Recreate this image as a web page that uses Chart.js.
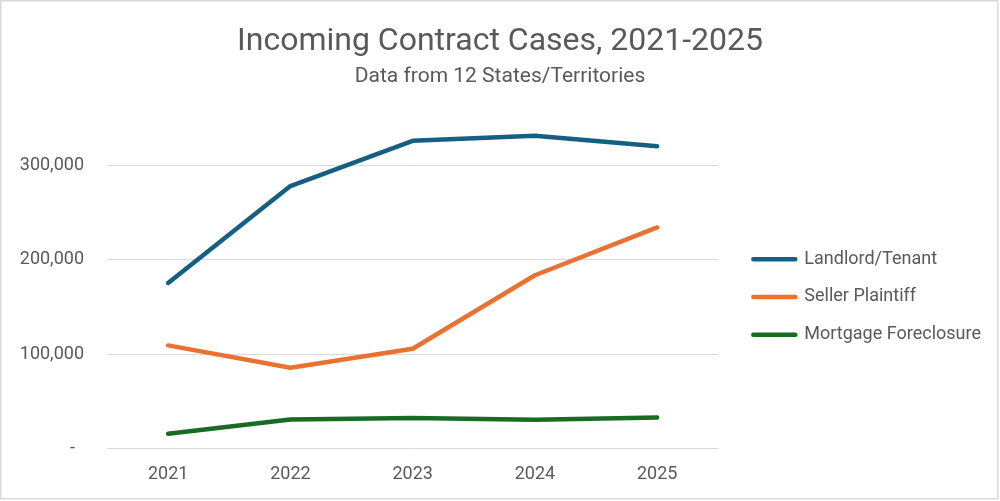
<!DOCTYPE html>
<html>
<head>
<meta charset="utf-8">
<title>Incoming Contract Cases, 2021-2025</title>
<script src="https://cdn.jsdelivr.net/npm/chart.js@4.4.1/dist/chart.umd.min.js"></script>
<style>
  html, body { margin: 0; padding: 0; background: #ffffff; }
  #wrap { width: 1000px; height: 501px; }
</style>
</head>
<body>
<div id="wrap"><canvas id="casesChart"></canvas></div>
<script>
const chartTitle = 'Incoming Contract Cases, 2021-2025';
const chartSubtitle = 'Data from 12 States/Territories';

const years = ['2021', '2022', '2023', '2024', '2025'];
const landlordTenant = [175600, 278200, 326200, 331500, 320300];
const sellerPlaintiff = [109500, 85900, 106000, 183800, 234400];
const mortgageForeclosure = [15900, 31100, 32500, 30800, 33200];
const yTicks = [0, 100000, 200000, 300000];
const yMax = 350000;

const textColor = '#595959';
const gridColor = '#d9d9d9';
const fontFamily = 'Roboto, "Open Sans", sans-serif';

// titles and the thin outer frame, drawn like the Excel chart box
const frameAndTitles = {
  id: 'frameAndTitles',
  afterDraw(chart) {
    const ctx = chart.ctx;
    const mid = chart.width / 2;
    ctx.save();
    ctx.fillStyle = textColor;
    ctx.textAlign = 'center';
    ctx.textBaseline = 'alphabetic';
    ctx.font = '32px ' + fontFamily;
    ctx.fillText(chartTitle, mid, 49.5);
    ctx.font = '21px ' + fontFamily;
    ctx.fillText(chartSubtitle, mid, 82);
    ctx.strokeStyle = gridColor;
    ctx.lineWidth = 1.5;
    ctx.strokeRect(0.75, 0.75, chart.width - 3, chart.height - 3);
    ctx.restore();
  }
};

function makeLine(label, values, color) {
  return {
    label: label,
    data: values,
    borderColor: color,
    backgroundColor: color,
    borderWidth: 4.5,
    borderCapStyle: 'round',
    borderJoinStyle: 'round',
    pointRadius: 0,
    pointHoverRadius: 0,
    tension: 0,
    fill: false
  };
}

// empty spacer axes, only there to hold room in the layout
function spacer(position, size) {
  return {
    type: 'linear',
    position: position,
    display: true,
    grid: { display: false },
    border: { display: false },
    ticks: { display: false },
    afterFit(scale) {
      if (position === 'top') scale.height = size;
      else scale.width = size;
    }
  };
}

window.onload = () => {
  new Chart(document.getElementById('casesChart'), {
    type: 'line',
    data: {
      labels: years,
      datasets: [
        makeLine('Landlord/Tenant', landlordTenant, '#156082'),
        makeLine('Seller Plaintiff', sellerPlaintiff, '#E97132'),
        makeLine('Mortgage Foreclosure', mortgageForeclosure, '#196B24')
      ]
    },
    plugins: [frameAndTitles],
    options: {
      responsive: true,
      maintainAspectRatio: false,
      animation: false,
      layout: { padding: { top: 101.5, right: 9, bottom: 8.6, left: 0 } },
      plugins: {
        title: { display: false },
        tooltip: { enabled: false },
        legend: {
          position: 'right',
          maxWidth: 400,
          labels: {
            color: textColor,
            font: { family: fontFamily, size: 18 },
            boxWidth: 42,
            boxHeight: 0,
            padding: 19.7
          }
        }
      },
      scales: {
        x: {
          type: 'category',
          offset: true,
          grid: { display: false },
          border: { display: false },
          ticks: {
            color: textColor,
            font: { family: fontFamily, size: 18 },
            padding: 7,
            maxRotation: 0
          }
        },
        y: {
          min: 0,
          max: yMax,
          grid: { color: gridColor, lineWidth: 1, drawTicks: false },
          border: { display: false },
          afterBuildTicks(scale) {
            scale.ticks = yTicks.map(v => ({ value: v }));
          },
          afterFit(scale) {
            scale.width = 107;
          },
          ticks: {
            color: textColor,
            font: { family: fontFamily, size: 18 },
            padding: 23,
            callback: v => v === 0 ? '-  ' : v.toLocaleString('en-US')
          }
        },
        topRoom: spacer('top', 16.8),
        rightRoom: spacer('right', 15.3)
      }
    }
  });
};
</script>
</body>
</html>
